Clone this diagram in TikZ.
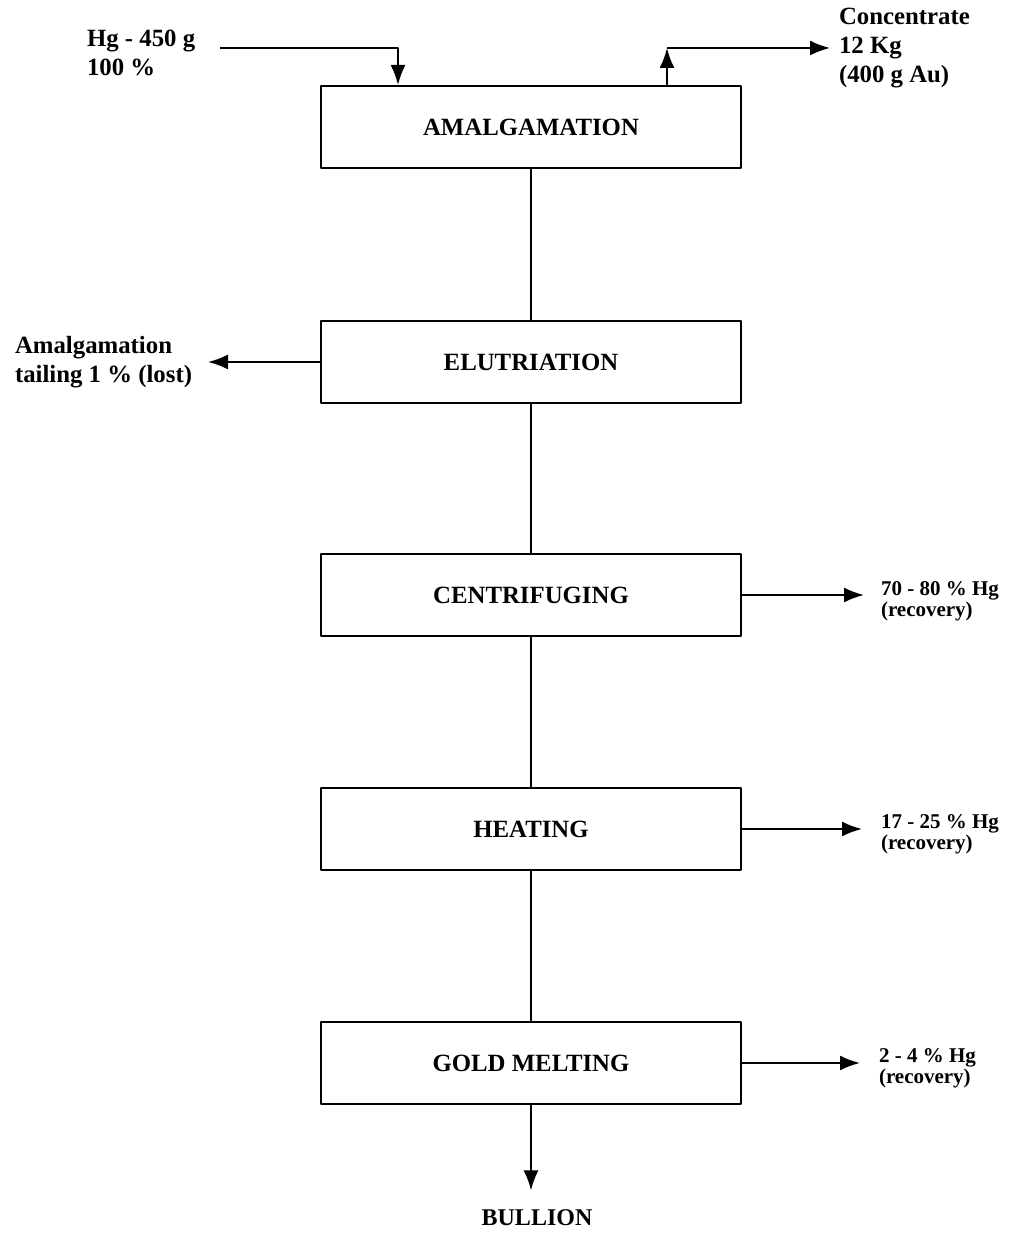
\documentclass[tikz,border=0pt]{standalone}
\usepackage{fontspec}
\setmainfont{Liberation Serif}
\usetikzlibrary{arrows.meta}
\begin{document}
\begin{tikzpicture}[>={Latex[length=10bp,width=7.5bp]},line join=bevel,line width=1bp,
  procbox/.style={draw,minimum width=210bp,minimum height=41bp,inner sep=0pt,font=\fontsize{12.4bp}{14bp}\selectfont\bfseries},
  sidelbl/.style={anchor=west,align=left,inner sep=0pt,font=\fontsize{12.4bp}{14.5bp}\selectfont\bfseries},
  hglbl/.style={anchor=west,align=left,inner sep=0pt,font=\fontsize{10.5bp}{10.5bp}\selectfont\bfseries},
]
%%
\useasboundingbox (0bp,0bp) rectangle (506bp,617bp);
\node (node_0) at (265.5bp,553.5bp) [procbox] {AMALGAMATION};
  \node (node_1) at (265.5bp,436bp) [procbox] {ELUTRIATION};
  \node (node_2) at (265.5bp,319.5bp) [procbox] {CENTRIFUGING};
  \node (node_3) at (265.5bp,202.5bp) [procbox] {HEATING};
  \node (node_4) at (265.5bp,85.5bp) [procbox] {GOLD MELTING};
  \node (node_5) at (43bp,590.5bp) [sidelbl] {Hg - 450 g\\100 \%};
  \node (node_6) at (419bp,593bp) [sidelbl] {Concentrate\\12 Kg\\(400 g Au)};
  \node (node_7) at (7bp,436bp) [sidelbl] {Amalgamation\\tailing 1 \% (lost)};
  \node (node_8) at (440bp,316.5bp) [hglbl] {70 - 80 \% Hg\\(recovery)};
  \node (node_9) at (440bp,200bp) [hglbl] {17 - 25 \% Hg\\(recovery)};
  \node (node_10) at (439bp,83bp) [hglbl] {2 - 4 \% Hg\\(recovery)};
  \node (node_11) at (268.5bp,8.25bp) [inner sep=0pt,font=\fontsize{12bp}{14bp}\selectfont\bfseries] {BULLION};
  \coordinate (hg_start) at (110bp,593bp);
  \coordinate (conc_turn) at (333.5bp,593bp);
  \coordinate (tail_end) at (104bp,436bp);
  \draw [black,->] (hg_start) -| ([xshift=-66.5bp]node_0.north);
  \draw [black,->] ([xshift=68bp]node_0.north) -- (conc_turn);
  \draw [black,->,shorten >=4bp] (conc_turn) -- (node_6.west);
  \draw [black] (node_0) -- (node_1);
  \draw [black] (node_1) -- (node_2);
  \draw [black] (node_2) -- (node_3);
  \draw [black] (node_3) -- (node_4);
  \draw [black,->] (node_1.west) -- (tail_end);
  \draw [black,->,shorten >=8bp] (node_2.east) -- (node_8.west |- node_2);
  \draw [black,->,shorten >=9bp] (node_3.east) -- (node_9.west |- node_3);
  \draw [black,->,shorten >=9bp] (node_4.east) -- (node_10.west |- node_4);
  \draw [black,->,shorten >=9bp] (node_4) -- (node_4 |- node_11.north);
%
\end{tikzpicture}
\end{document}
